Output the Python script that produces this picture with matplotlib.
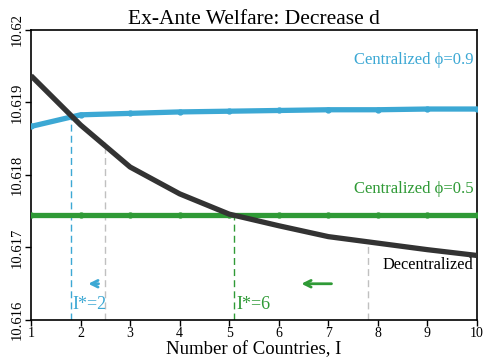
import matplotlib
matplotlib.use("Agg")
import matplotlib.pyplot as plt

plt.rcParams['font.family'] = ['Liberation Serif', 'DejaVu Serif']

countries = [1, 2, 3, 4, 5, 6, 7, 8, 9, 10]
decentralized = [10.61937, 10.61869, 10.61811, 10.61774, 10.61746, 10.61730, 10.61715, 10.61706, 10.61697, 10.61689]
central_09 = [10.61867, 10.61883, 10.61885, 10.61887, 10.61888, 10.61889, 10.61890, 10.61890, 10.61891, 10.61891]
central_05 = [10.61745] * 10
yticks = [10.616, 10.617, 10.618, 10.619, 10.62]
ytick_labels = ["10.616", "10.617", "10.618", "10.619", "10.62"]

blue = "#3ca8d4"
green = "#2f9a36"
black = "#333333"
gray = "#c0c0c0"

fig = plt.figure(figsize=(4.83, 3.6), dpi=100)
ax = fig.add_axes([31/483, 40/360, 446/483, 290/360])

ax.plot(countries, central_09, color=blue, lw=3.8, marker='o', ms=3.5, zorder=3)
ax.plot(countries, central_05, color=green, lw=3.8, marker='o', ms=3.5, zorder=3)
ax.plot(countries, decentralized, color=black, lw=3.8, zorder=4, solid_capstyle='butt')

# vertical dashed guides
ax.plot([1.8, 1.8], [10.616, 10.61880], color=blue, lw=1, ls=(0, (5, 3)), zorder=2)
ax.plot([2.5, 2.5], [10.616, 10.61845], color=gray, lw=1, ls=(0, (5, 3)), zorder=2)
ax.plot([5.1, 5.1], [10.616, 10.61745], color=green, lw=1, ls=(0, (5, 3)), zorder=2)
ax.plot([7.8, 7.8], [10.616, 10.61707], color=gray, lw=1, ls=(0, (5, 3)), zorder=2)

# arrows
ax.annotate("", xy=(2.1, 10.6165), xytext=(2.42, 10.6165),
            arrowprops=dict(arrowstyle="->", color=blue, lw=2, mutation_scale=12))
ax.annotate("", xy=(6.4, 10.6165), xytext=(7.12, 10.6165),
            arrowprops=dict(arrowstyle="->", color=green, lw=2, mutation_scale=12))

ax.text(1.84, 10.61609, "I*=2", color=blue, fontsize=13, ha='left', va='bottom')
ax.text(5.14, 10.61609, "I*=6", color=green, fontsize=13, ha='left', va='bottom')
ax.text(9.93, 10.61665, "Decentralized", color="black", fontsize=11.8, ha='right', va='bottom')
ax.text(9.93, 10.61947, "Centralized ϕ=0.9", color=blue, fontsize=12, ha='right', va='bottom')
ax.text(9.93, 10.61769, "Centralized ϕ=0.5", color=green, fontsize=12, ha='right', va='bottom')

ax.set_xlim(1, 10)
ax.set_ylim(10.616, 10.62)
ax.set_xticks(countries)
ax.set_xticklabels([str(c) for c in countries], fontsize=10)
ax.set_yticks(yticks)
ax.set_yticklabels(ytick_labels, fontsize=10.5, rotation=90, va='center')
ax.tick_params(length=4, width=1, pad=1)
ax.set_xlabel("Number of Countries, I", fontsize=13.5, labelpad=1)
ax.set_title("Ex-Ante Welfare: Decrease d", fontsize=15.5, pad=4)
for s in ax.spines.values():
    s.set_linewidth(1.2)

fig.savefig("out.png", dpi=100)
